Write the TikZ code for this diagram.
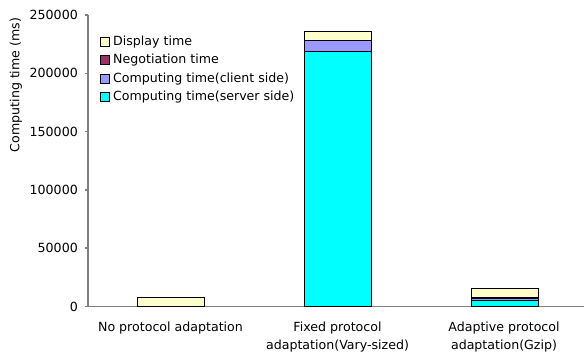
\documentclass[tikz,border=0pt]{standalone}
\usepackage{fontspec}
\setmainfont{DejaVu Sans}
\usepackage{tikz}
\usetikzlibrary{calc}
\definecolor{dispcol}{HTML}{FFFFCC}
\definecolor{negocol}{HTML}{993366}
\definecolor{clientcol}{HTML}{9999FF}
\definecolor{servercol}{HTML}{00FFFF}
\definecolor{axisgray}{HTML}{808080}
\newcommand{\barseg}[4]{ \draw[segline, fill=#4] ( #1-33.5 , {47.5+1.166*#2} ) rectangle ( #1+33.5 , {47.5+1.166*#3} );}
\newcommand{\legitem}[4]{ \draw[segline, fill=#3] ( 100 , #2-4.5 ) rectangle ( 109 , #2+4.5 ); \node[anchor=west, inner sep=0pt] (#1) at ( 113 , #2 ) {#4};}

\begin{document}
\begin{tikzpicture}[x=1pt, y=1pt,
  every node/.style={font=\fontsize{12.6}{18}\selectfont},
  segline/.style={draw=black, line width=0.8pt},
  axisline/.style={draw=axisgray, line width=1.5pt}]
\useasboundingbox (0,0) rectangle (584,354);
% axes
\draw[axisline] (88,339) -- (88,47.5) -- (584,47.5);
\foreach \v/\lab in {0/0,50/50000,100/100000,150/150000,200/200000,250/250000} {
  \draw[axisline] (84.5,{47.5+1.166*\v}) -- (88,{47.5+1.166*\v});
  \node[anchor=east, inner sep=0pt] (ytick\v) at (78,{47.5+1.166*\v}) {\lab};
}
\node[rotate=90, inner sep=0pt] (ytitle) at (16,269) {Computing time (ms)};
% bar 1
\barseg{170.5}{0}{7.8}{dispcol}
% bar 2
\barseg{337.5}{0}{218.5}{servercol}
\barseg{337.5}{218.5}{228}{clientcol}
\barseg{337.5}{228}{236}{dispcol}
% bar 3
\barseg{505}{0}{5.2}{servercol}
\barseg{505}{5.2}{6.6}{clientcol}
\barseg{505}{6.6}{7.8}{negocol}
\barseg{505}{7.8}{15.6}{dispcol}
% legend
\legitem{legdisp}{312.3}{dispcol}{Display time}
\legitem{legnego}{293.7}{negocol}{Negotiation time}
\legitem{legclient}{275}{clientcol}{Computing time(client side)}
\legitem{legserver}{256.7}{servercol}{Computing time(server side)}
% category labels
\node[anchor=north, inner sep=0pt, align=center] (cat1) at (170.5,32) {No protocol adaptation};
\node[anchor=north, inner sep=0pt, align=center] (cat2) at (337.5,32) {Fixed protocol\\adaptation(Vary-sized)};
\node[anchor=north, inner sep=0pt, align=center] (cat3) at (504,32) {Adaptive protocol\\adaptation(Gzip)};
\end{tikzpicture}
\end{document}
